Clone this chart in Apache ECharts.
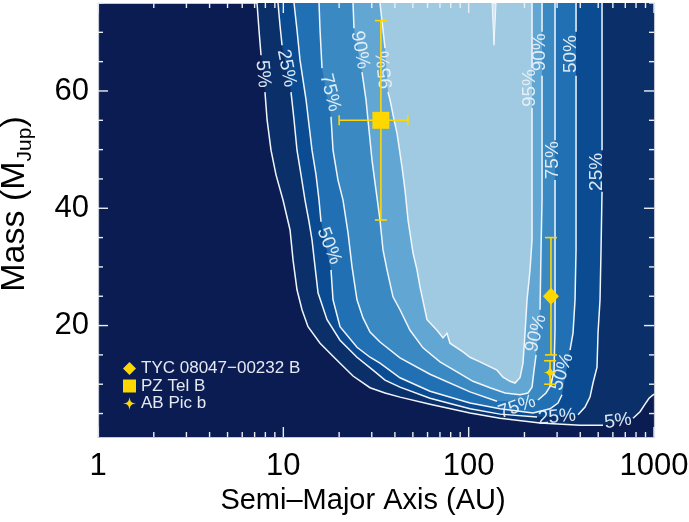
<!DOCTYPE html>
<html><head><meta charset="utf-8">
<script src="https://cdn.jsdelivr.net/npm/echarts@6/dist/echarts.min.js"></script>
<style>html,body{margin:0;padding:0;background:#fff}#c{width:689px;height:522px}</style>
</head><body><div id="c"></div>
<script>
// ---- axis ticks ----
const xMajor = [1, 10, 100, 1000];
const xMinor = [2,3,4,5,6,7,8,9,20,30,40,50,60,70,80,90,200,300,400,500,600,700,800,900];
const yMajor = [20, 40, 60];
const yMinor = [5,10,15,25,30,35,45,50,55,65,70,75];

// ---- contour curves (semi-major axis AU, mass MJup); null = break for label ----
const contour5 = [
 [7.21,75],[7.39,70.4],[7.58,66.1],null,
 [7.96,59.8],[8.17,55.1],[8.58,49.9],[9.13,45.7],[9.96,41.4],[10.87,36.3],[11.28,31.2],[11.85,26.1],[12.61,22.7],[13.59,19.8],[15.78,17.0],[19.48,14.1],[23.77,11.4],[29.36,9.4],[35.37,8.5],[42.61,7.8],[61.86,6.6],[101.7,5.1],[147.6,4.2],[242.7,3.4],[398.9,3.0],[530.8,3.0],null,
 [770.7,4.2],[840.6,5.3],[894.6,6.6],[940,7.6],[1000,8.3]
];
const contour25 = [
 [9.36,75],[9.59,71.25],[9.84,67.8],null,
 [11.00,59.8],[11.42,55.1],[11.85,49.9],[12.46,45.7],[13.09,41.4],[13.76,37.7],[14.28,34.6],[14.83,30.0],[15.39,25.6],[17.21,21.0],[20.22,17.5],[24.97,14.6],[30.47,12.4],[35.37,10.7],[42.61,9.5],[61.86,7.6],[101.7,5.8],[147.6,4.9],[233.8,4.4],null,
 [389.1,4.8],[424.5,6.1],[451.5,7.8],[468.7,10.2],[492.6,12.9],[498.8,18.7],[511.4,24.4],[517.8,32.9],[524.3,42.8],null,
 [524.3,49.9],[524.3,75]
];
const contour50 = [
 [11.42,75],[11.85,70.4],[12.30,65.3],[12.77,61.9],[13.26,58.5],[13.76,54.2],[14.28,49.9],[15.01,45.7],[15.58,41.4],[15.97,37.7],null,
 [18.08,29.5],[18.54,24.4],[20.22,19.8],[24.97,16.3],[29.36,14.6],[33.23,13.6],[42.61,11.1],[61.86,8.8],[101.7,6.8],[147.6,5.8],[222.5,5.1],[274.8,5.8],[303.4,6.8],[318.9,8.2],null,
 [352.3,15.8],[365.6,18.7],[374.9,24.4],[379.6,32.9],[379.6,62.6],null,
 [379.6,70.1],[379.6,75]
];
const contour75 = [
 [15.58,75],[15.78,70.4],[16.17,63.9],null,
 [18.08,55.6],[18.54,49.9],[19.72,44.8],[20.99,41.4],[22.34,35.8],[23.48,30.0],[24.97,24.4],[26.91,21.3],[29.36,18.9],[33.23,17.2],[42.61,14.5],[61.86,11.7],[101.7,8.7],[142.2,7.1],null,
 [236.7,7.3],[261.4,8.5],[278.3,9.9],[288.8,12.4],[292.4,19.2],[292.4,44.8],null,
 [292.4,51.6],[292.4,75]
];
const contour90 = [
 [23.77,75],[24.06,70.7],null,
 [26.58,63.2],[27.93,58.5],[29.00,53.3],[30.09,48.2],[31.62,43.1],[33.23,38.0],[34.50,32.9],[36.26,29.5],[39.06,24.9],[42.61,22.7],[48.26,19.2],[56.70,16.2],[70.03,13.8],[86.50,12.1],[105.5,10.5],[130.4,9.4],[157.1,8.5],[189.2,8.2],[209.1,8.5],[219.7,9.5],[225.3,12.4],[231.0,15.0],null,
 [242.7,22.7],[245.7,32.9],[248.8,41.4],[248.8,62.6],null,
 [248.8,70.1],[248.8,75]
];
const contour95 = [
 [33.23,75],[34.50,70.4],[35.37,67.3],null,
 [36.71,59.8],[37.63,58.5],[39.55,55.1],[41.05,52.8],[43.69,47.0],[45.35,43.1],[47.07,38.0],[50.08,32.4],[52.63,29.5],[54.63,26.6],[59.60,21.0],[67.47,19.2],[72.69,17.9],[76.39,18.7],[79.30,17.0],[93.22,15.5],[101.7,14.6],[115.1,13.8],[142.2,12.4],[153.2,11.2],[167.1,10.5],[177.9,10.2],[189.2,11.1],[196.4,13.6],[201.4,18.7],[206.5,24.4],[214.3,29.5],[219.7,34.6],[219.7,57.1],null,
 [219.7,63.9],[219.7,75]
];
const contour95notch = [[133.7,75],[137.0,67.8],[140.5,75]];

// ---- contour labels: text, a, mass ----
const labelText = ['5%','25%','50%','75%','90%','95%','95%','90%','50%','75%','25%','90%','50%','75%','25%','5%'];
const labelA    = [7.77,10.40,17.64,17.86,25.93,35.37,214.3,242.7,356.6,285.2,492.6,231.0,318.9,182.3,299.7,639.4];
const labelM    = [62.9,63.9,33.6,59.7,67.0,63.6,60.5,66.6,66.3,48.2,46.2,18.7,12.1,6.1,4.4,3.7];
const labelAngles = [-85,-79,-69,-76,-80,96,90,90,90,90,90,76,72,19,5,8];

// ---- companions: a, mass, aLow, aHigh, massLow, massHigh ----
const objNames = ['TYC 08047\u221200232 B', 'PZ Tel B', 'AB Pic b'];
const objA = [278, 33.6, 275];
const objM = [25, 55, 12];
const objALo = [278, 20, 275];
const objAHi = [278, 47, 275];
const objMLo = [15, 38, 10];
const objMHi = [35, 72, 14];

// ---- styles ----
const FONT = 'Liberation Sans, Arial, Helvetica, sans-serif';
const levelColors = ['#0b2f69','#0a4b92','#2270b4','#3b89c2','#62a6d3','#9fcae1'];
const bgColor = '#0a1c52';
const yellow = '#ffd700';
const starPath = 'path://M0,-10 C0.8,-3 3,-0.8 10,0 C3,0.8 0.8,3 0,10 C-0.8,3 -3,0.8 -10,0 C-3,-0.8 -0.8,-3 0,-10 Z';
const objSymbols = ['diamond', 'rect', starPath];
const objSizes = [[16,17],[17,17],[13,18]];

const chart = echarts.init(document.getElementById('c'), null, {renderer:'canvas'});

function fillSeries(pts, extra, color, z) {
  return { type:'custom', coordinateSystem:'cartesian2d', silent:true, z:z, clip:true, data:[[10,10]],
    renderItem:(p, api) => ({ type:'polygon',
      shape:{ points: pts.filter(Boolean).concat(extra).map(q => api.coord(q)) },
      style:{ fill: color } }) };
}
const curves = [contour5, contour25, contour50, contour75, contour90, contour95];
const series = [];
series.push(fillSeries(contour5, [[1000,75]], levelColors[0], 1));
series.push(fillSeries(contour25, [], levelColors[1], 1));
series.push(fillSeries(contour50, [], levelColors[2], 1));
series.push(fillSeries(contour75, [], levelColors[3], 1));
series.push(fillSeries(contour90, [], levelColors[4], 1));
series.push(fillSeries(contour95, [], levelColors[5], 1));
series.push({ type:'custom', coordinateSystem:'cartesian2d', silent:true, z:2, clip:true, data:[[10,10]],
  renderItem:(p, api) => ({ type:'polygon', shape:{ points: contour95notch.map(q => api.coord(q)) },
    style:{ fill:'#d4e6f3', stroke:'#f4f7fb', lineWidth:1 } }) });
// contour lines
series.push({ type:'custom', coordinateSystem:'cartesian2d', silent:true, z:3, clip:false, data:[[10,10]],
  renderItem:(p, api) => {
    const children = [];
    const poly = seg => ({ type:'polyline', shape:{ points: seg }, style:{ stroke:'#f2f6fb', lineWidth:1.5, fill:'none' } });
    curves.forEach(c => {
      let seg = [];
      c.forEach(q => { if (q) seg.push(api.coord(q)); else { if (seg.length > 1) children.push(poly(seg)); seg = []; } });
      if (seg.length > 1) children.push(poly(seg));
    });
    return { type:'group', children };
  } });
// inside ticks on all four sides, placed through the axes' scales
series.push({ type:'custom', coordinateSystem:'cartesian2d', z:9, clip:false, data:[[10,10]],
  renderItem:(p, api) => {
    const ch = [];
    const tk = (a, b) => ch.push({ type:'polyline', shape:{ points:[a, b] }, style:{ stroke:'#eceef2', lineWidth:1.4, fill:'none' } });
    [[xMajor, 10], [xMinor, 5]].forEach(([vals, len]) => vals.forEach(v => {
      const b = api.coord([v, 1]), t = api.coord([v, 75]);
      tk([b[0], b[1]], [b[0], b[1] - len]);
      tk([t[0], t[1]], [t[0], t[1] + len]);
    }));
    [[yMajor, 10], [yMinor, 5]].forEach(([vals, len]) => vals.forEach(v => {
      const l = api.coord([1, v]), r = api.coord([1000, v]);
      tk([l[0], l[1]], [l[0] + len, l[1]]);
      tk([r[0], r[1]], [r[0] - len, r[1]]);
    }));
    return { type:'group', children: ch };
  } });
// contour labels
series.push({ type:'custom', coordinateSystem:'cartesian2d', silent:true, z:4, clip:false,
  data: labelText.map((t, i) => [labelA[i], labelM[i], i]),
  renderItem:(p, api) => {
    const i = api.value(2);
    const pt = api.coord([api.value(0), api.value(1)]);
    return { type:'text', x: pt[0], y: pt[1], rotation: labelAngles[i] * Math.PI / 180,
      style:{ text: labelText[i], fill:'rgba(232,240,249,0.95)', fontSize:19, fontFamily:FONT, align:'center', verticalAlign:'middle' } };
  } });
// error bars
series.push({ type:'custom', coordinateSystem:'cartesian2d', silent:true, z:5, clip:false,
  data: objA.map((a, i) => [a, objM[i], objALo[i], objAHi[i], objMLo[i], objMHi[i]]),
  renderItem:(p, api) => {
    const a = api.value(0), m = api.value(1);
    const mk = (x1, y1, x2, y2) => ({ type:'polyline', shape:{ points:[[x1, y1], [x2, y2]] }, style:{ stroke: yellow, lineWidth: 1.6, fill:'none' } });
    const t = api.coord([a, api.value(5)]), b = api.coord([a, api.value(4)]);
    const ch = [ mk(t[0], t[1], b[0], b[1]), mk(t[0]-6, t[1], t[0]+6, t[1]), mk(b[0]-6, b[1], b[0]+6, b[1]) ];
    if (api.value(2) !== api.value(3)) {
      const l = api.coord([api.value(2), m]), r = api.coord([api.value(3), m]);
      ch.push(mk(l[0], l[1], r[0], r[1]));
      ch.push(mk(l[0], l[1]-5, l[0], l[1]+5));
      ch.push(mk(r[0], r[1]-5, r[0], r[1]+5));
    }
    return { type:'group', children: ch };
  } });
objNames.forEach((n, i) => {
  series.push({ type:'scatter', name:n, z:6, symbol: objSymbols[i], symbolSize: objSizes[i],
    itemStyle:{ color: yellow, opacity:1 }, data:[[objA[i], objM[i]]], silent:true });
});

const lineSt = { show:true, lineStyle:{ color:'#c4c9d3', width:1.2 } };
function xAx(pos, withLabels) {
  return { type:'log', logBase:10, min:1, max:1000, position:pos,
    axisLine: lineSt, splitLine:{ show:false }, axisTick:{ show:false },
    axisLabel: withLabels ? { show:true, customValues: xMajor, margin:14, color:'#000', fontSize:31, fontFamily:FONT, formatter: v => String(v) } : { show:false },
    ...(withLabels ? { name:'Semi\u2013Major Axis (AU)', nameLocation:'middle', nameGap:47,
        nameTextStyle:{ color:'#000', fontSize:29, fontFamily:FONT, padding:[0,26,0,0] } } : {}) };
}
function yAx(pos, withLabels) {
  return { type:'value', min:1, max:75, position:pos,
    axisLine: lineSt, splitLine:{ show:false }, axisTick:{ show:false },
    axisLabel: withLabels ? { show:true, customValues: yMajor, margin:9, color:'#000', fontSize:31, fontFamily:FONT } : { show:false },
    ...(withLabels ? { name:'{a|Mass (M}{b|Jup}{a|)}', nameLocation:'middle', nameGap:62,
        nameTextStyle:{ color:'#000', fontFamily:FONT, padding:[0,0,0,32],
          rich:{ a:{ fontSize:34, lineHeight:42, fontFamily:FONT, color:'#000' }, b:{ fontSize:21, lineHeight:21, verticalAlign:'bottom', fontFamily:FONT, color:'#000' } } } } : {}) };
}

chart.setOption({
  animation:false,
  grid:{ left:98, right:35, top:3, bottom:85, show:true, backgroundColor:bgColor, borderWidth:0, containLabel:false, outerBoundsMode:'none' },
  xAxis:[ xAx('bottom', true), xAx('top', false) ],
  yAxis:[ yAx('left', true), yAx('right', false) ],
  legend:{ orient:'vertical', left:123, top:360, padding:0, itemGap:0.5, itemWidth:13, itemHeight:13, selectedMode:false,
    textStyle:{ color:'#e4e9f2', fontSize:17, fontFamily:FONT },
    data: objNames.map((n, i) => ({ name:n, icon: objSymbols[i] })) },
  series
});
</script>
</body></html>
